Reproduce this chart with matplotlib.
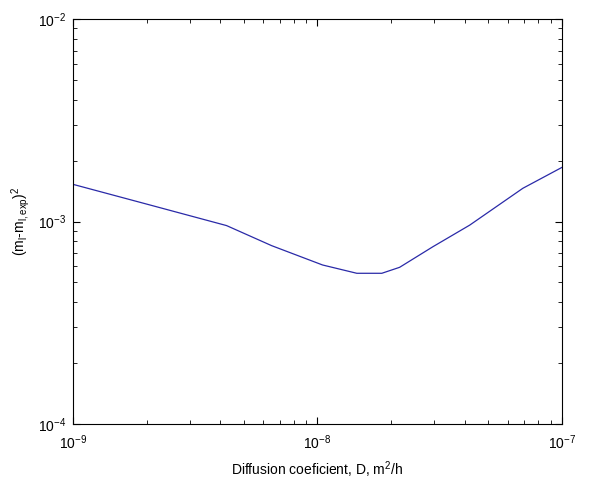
import matplotlib
matplotlib.use("Agg")
import matplotlib.pyplot as plt
from matplotlib.ticker import LogLocator, NullFormatter

plt.rcParams['font.family'] = ['Liberation Sans', 'DejaVu Sans']
plt.rcParams['mathtext.fontset'] = 'custom'
plt.rcParams['mathtext.rm'] = 'Liberation Sans'
plt.rcParams['mathtext.it'] = 'Liberation Sans'
plt.rcParams['mathtext.default'] = 'regular'

# diffusion coefficient (m2/h) and squared error
diff_coef = [1.0e-9, 2.0e-9, 4.25e-9, 6.5e-9, 1.05e-8, 1.45e-8,
             1.835e-8, 2.17e-8, 2.97e-8, 4.2e-8, 6.93e-8, 1.0e-7]
sq_error = [1.527e-3, 1.22e-3, 0.955e-3, 0.76e-3, 6.1e-4, 5.55e-4,
            5.55e-4, 5.94e-4, 7.51e-4, 9.6e-4, 1.46e-3, 1.85e-3]

fig = plt.figure(figsize=(6.08, 4.79), dpi=100)
ax = fig.add_axes([0.12, 0.115, 0.804, 0.845])

ax.plot(diff_coef, sq_error, color='#2a2aa8', linewidth=0.9)

ax.set_xscale('log')
ax.set_yscale('log')
ax.set_xlim(1e-9, 1e-7)
ax.set_ylim(1e-4, 1e-2)

ax.xaxis.set_major_locator(LogLocator(base=10, numticks=10))
ax.yaxis.set_major_locator(LogLocator(base=10, numticks=10))
ax.xaxis.set_minor_locator(LogLocator(base=10, subs=range(2, 10), numticks=20))
ax.yaxis.set_minor_locator(LogLocator(base=10, subs=range(2, 10), numticks=20))
ax.xaxis.set_minor_formatter(NullFormatter())
ax.yaxis.set_minor_formatter(NullFormatter())

ax.tick_params(which='both', direction='in', top=True, right=True, labelsize=10)
ax.tick_params(which='major', length=5, width=0.8)
ax.tick_params(which='minor', length=3, width=0.6)
ax.tick_params(axis='x', which='major', pad=7)
ax.tick_params(axis='y', which='major', pad=5)
for s in ax.spines.values():
    s.set_linewidth(0.8)

ax.set_xlabel('Diffusion coeficient, D, m$^2$/h', fontsize=10, labelpad=5)
ax.set_ylabel('(m$_l$-m$_{l,exp}$)$^2$', fontsize=10)

fig.savefig('out.png', dpi=100)
